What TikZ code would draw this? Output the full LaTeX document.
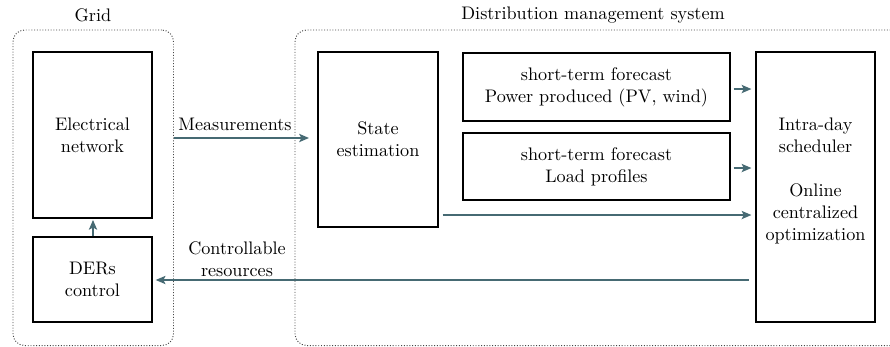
\documentclass[tikz,border=0pt]{standalone}
\usetikzlibrary{arrows.meta,fit}
\definecolor{flow}{RGB}{70,106,115}
\definecolor{frame}{RGB}{70,70,70}
\begin{document}
\begin{tikzpicture}[x=0.5618pt,y=-0.5618pt,
  every node/.style={font=\fontsize{10.2pt}{12.3pt}\selectfont},
  block/.style={draw=black,line width=1.1pt,inner sep=0pt,align=center},
  zone/.style={draw=frame,densely dotted,line width=0.55pt,rounded corners=6.5pt,inner sep=0pt},
  flowline/.style={draw=flow,line width=1pt},
  flowarrow/.style={flowline,-{Stealth[length=5.5pt,width=4.6pt,inset=1.2pt]}}]
\useasboundingbox (0,0) rectangle (890,346);

% dotted zones
\coordinate (g1) at (13,30);
\coordinate (g2) at (173.5,345.5);
\coordinate (d1) at (295,30);
\coordinate (d2) at (905,345.5);
\node[zone,fit=(g1)(g2)] (grid) {};
\node[zone,fit=(d1)(d2)] (dms) {};
\node at (93,15) {Grid};
\node at (593,15) {Distribution management system};

% grid side
\node[block,minimum width=119*0.5618pt,minimum height=166*0.5618pt] (en) at (92.5,135) {Electrical\\network};
\node[block,minimum width=119*0.5618pt,minimum height=85*0.5618pt] (der) at (92.5,279.5) {DERs\\control};

% management side
\node[block,minimum width=120*0.5618pt,minimum height=175*0.5618pt] (se) at (378,139.5) {State\\estimation};
\node[block,minimum width=267*0.5618pt,minimum height=68*0.5618pt] (fp) at (596.5,87) {short-term forecast\\Power produced (PV, wind)};
\node[block,minimum width=267*0.5618pt,minimum height=67*0.5618pt] (fl) at (596.5,166.5) {short-term forecast\\Load profiles};
\node[block,minimum width=119*0.5618pt,minimum height=270*0.5618pt] (ids) at (815.5,187) {};
\node[align=center] at (815.5,181) {Intra-day\\scheduler\\[12.3pt]Online\\centralized\\optimization};

% connectors
\coordinate (m0) at (grid.east |- 0,138);
\coordinate (m1) at (se.west |- 0,138);
\draw[flowarrow,shorten >=4.5pt] (m0) -- (m1);
\node at (235,124) {Measurements};
\draw[flowarrow,shorten <=1.5pt,shorten >=2pt] (fp.east |- 0,89) -- (ids.west |- 0,89);
\draw[flowarrow,shorten <=1.5pt,shorten >=2pt] (fl.east |- 0,168) -- (ids.west |- 0,168);
\draw[flowarrow,shorten <=2pt,shorten >=2pt] (se.east |- 0,215) -- (ids.west |- 0,215);
\draw[flowarrow,shorten <=3.4pt,shorten >=1.5pt] (ids.west |- 0,280) -- (der.east |- 0,280);
\node[align=center] at (237,259) {Controllable\\resources};
\draw[flowarrow,shorten >=0.5pt] (der.north -| 93,0) -- (en.south -| 93,0);
\end{tikzpicture}
\end{document}
